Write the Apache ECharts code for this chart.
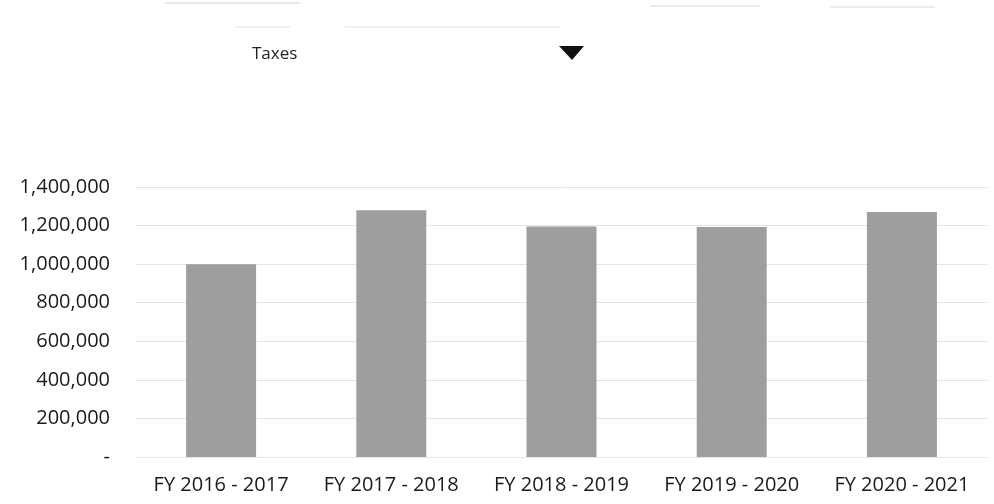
<!DOCTYPE html>
<html><head><meta charset="utf-8">
<script src="https://cdn.jsdelivr.net/npm/echarts@6/dist/echarts.min.js"></script>
<style>html,body{margin:0;padding:0;background:#fff}#c{width:994px;height:504px}</style>
</head><body><div id="c"></div>
<script>
const categories = ['FY 2016 - 2017','FY 2017 - 2018','FY 2018 - 2019','FY 2019 - 2020','FY 2020 - 2021'];
const taxes = [1000000, 1280000, 1195000, 1192000, 1270000];
const yTicks = [0, 200000, 400000, 600000, 800000, 1000000, 1200000, 1400000];
const titleText = 'Taxes';

const chart = echarts.init(document.getElementById('c'));
chart.setOption({
  animation: false,
  backgroundColor: '#fff',
  grid: {left: 136, right: 7, top: 187, bottom: 47},
  xAxis: {
    type: 'category', data: categories,
    axisLine: {show: true, lineStyle: {color: '#e6e6e6'}},
    axisTick: {show: false},
    axisLabel: {interval: 0, hideOverlap: false, color: '#1a1a1a', fontSize: 20, fontFamily: 'Open Sans', margin: 18}
  },
  yAxis: {
    type: 'value', min: yTicks[0], max: yTicks[yTicks.length - 1], interval: yTicks[1] - yTicks[0],
    axisLine: {show: false}, axisTick: {show: false},
    splitLine: {lineStyle: {color: '#e4e4e4', width: 1}},
    axisLabel: {
      color: '#1a1a1a', fontSize: 20, fontFamily: 'Open Sans', margin: 26,
      formatter: v => v === 0 ? '-' : v.toLocaleString('en-US')
    }
  },
  series: [{
    type: 'bar', data: taxes, barWidth: 70,
    itemStyle: {color: '#9e9e9e'}
  }],
  graphic: [
    {type: 'text', x: 252, y: 54, style: {text: titleText, fontSize: 17, fontFamily: 'Open Sans', fill: '#222', textVerticalAlign: 'middle'}},
    {type: 'polygon', shape: {points: [[559,46],[584,46],[572,60]]}, style: {fill: '#111'}},
    {type: 'line', shape: {x1: 165, y1: 3, x2: 300, y2: 3}, style: {stroke: '#cfcfcf', lineWidth: 1}},
    {type: 'line', shape: {x1: 235, y1: 27, x2: 290, y2: 27}, style: {stroke: '#e0e0e0', lineWidth: 1}},
    {type: 'line', shape: {x1: 345, y1: 27, x2: 560, y2: 27}, style: {stroke: '#e4e4e4', lineWidth: 1}},
    {type: 'line', shape: {x1: 650, y1: 6, x2: 760, y2: 6}, style: {stroke: '#d8d8d8', lineWidth: 1}},
    {type: 'line', shape: {x1: 830, y1: 7, x2: 935, y2: 7}, style: {stroke: '#d8d8d8', lineWidth: 1}}
  ]
});
</script></body></html>
